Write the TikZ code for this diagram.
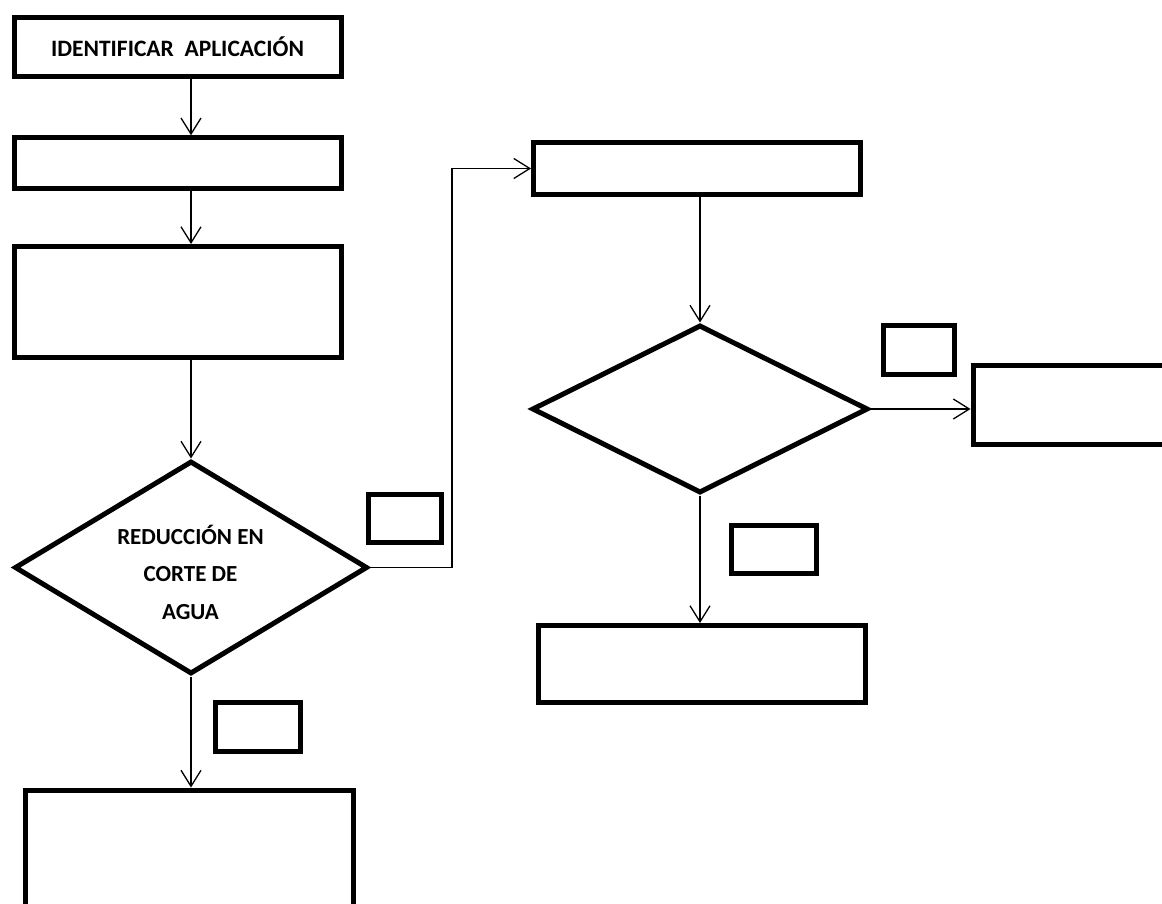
\documentclass[tikz,border=0pt]{standalone}
\usepackage{fontspec}
\setmainfont{Carlito}
\usetikzlibrary{arrows.meta,shapes.geometric,calc}

\begin{document}
\begin{tikzpicture}[
  x=1pt, y=-1pt,
  box/.style={draw, line width=5pt, rectangle, inner sep=0pt, outer sep=2.5pt,
              fill=white},
  decision/.style={draw, line width=5pt, diamond, inner sep=0pt, outer sep=2.5pt},
  lbl/.style={font=\fontsize{23}{37.5}\selectfont\bfseries, align=center, inner sep=0pt},
  flow/.style={line width=1.3pt, -{Straight Barb[length=16pt,width=20pt,line width=1.3pt]}},
]
\useasboundingbox (0,0) rectangle (1162,904);
\clip (0,0) rectangle (1162,904);

% left column
\node[box, minimum width=327pt, minimum height=58.5pt] (b1) at (177.5,47)
  {\fontsize{23.5}{26}\selectfont\bfseries IDENTIFICAR\ \ APLICACIÓN};
\node[box, minimum width=327pt, minimum height=50.5pt] (b2) at (177.5,163) {};
\node[box, minimum width=326.5pt, minimum height=111pt] (b3) at (177.75,302) {};
\node[decision, minimum width=353pt, minimum height=213pt] (d1) at (191,567.5) {};
\node[lbl] (d1text) at (190.5,572) {REDUCCIÓN EN\\CORTE DE\\AGUA};
\node[box, minimum width=72.5pt, minimum height=48pt] (s1) at (404.75,518.5) {};
\node[box, minimum width=85pt, minimum height=48.5pt] (s4) at (257.5,727) {};
\node[box, minimum width=328pt, minimum height=140pt] (b4) at (189.5,860) {};

% right column
\node[box, minimum width=326.5pt, minimum height=52pt] (b5) at (696.75,168.5) {};
\node[decision, minimum width=336pt, minimum height=168pt] (d2) at (700,409) {};
\node[box, minimum width=71.5pt, minimum height=49pt] (s2) at (919,350) {};
\node[box, minimum width=227pt, minimum height=79.5pt] (b6) at (1086.5,404.75) {};
\node[box, minimum width=85pt, minimum height=48pt] (s3) at (774,549) {};
\node[box, minimum width=326.5pt, minimum height=76.5pt] (b7) at (701.75,663.75) {};

% connectors
\coordinate (bend) at (452,567.5);
\draw[flow] (b1.south -| d1.north) -- (b2.north -| d1.north);
\draw[flow] (b2.south -| d1.north) -- (b3.north -| d1.north);
\draw[flow] (b3.south -| d1.north) -- (d1.north);
\draw[flow] (d1.south) -- (d1.south |- b4.north);
\draw[line width=1.3pt] (d1.east) -- (bend);
\draw[flow] (bend) |- (b5.west);
\draw[flow] (b5.south -| d2.north) -- (d2.north);
\draw[flow] (d2.east) -- (d2.east -| b6.west);
\draw[flow] (d2.south) -- (d2.south |- b7.north);
\end{tikzpicture}
\end{document}
